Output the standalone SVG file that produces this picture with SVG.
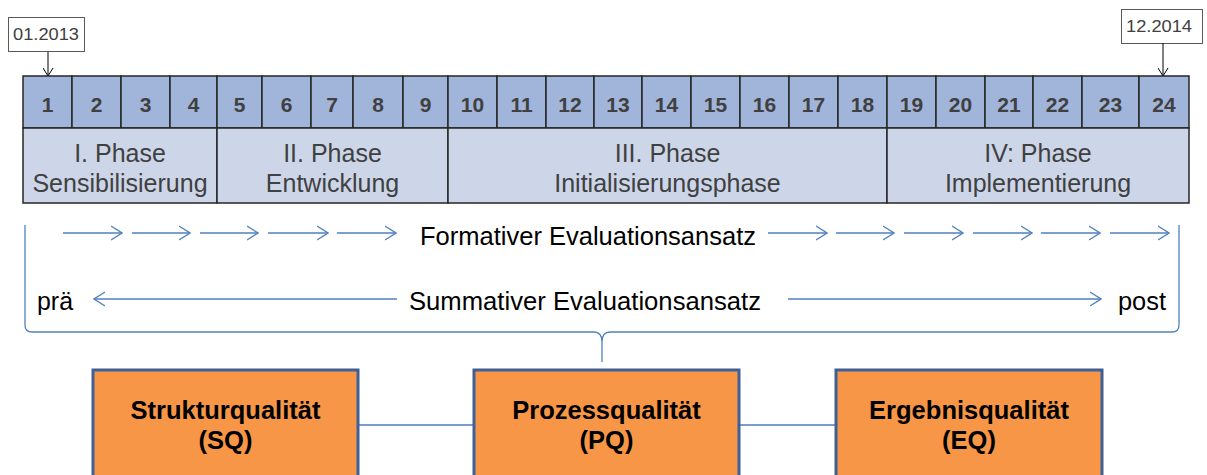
<svg xmlns="http://www.w3.org/2000/svg" width="1207" height="475" viewBox="0 0 1207 475">
<defs>
<style>
.cell{fill:#A1B4DA;stroke:#262626;stroke-width:1.5}
.phase{fill:#CDD6E9;stroke:#262626;stroke-width:1.5}
.num{font-family:"Liberation Sans",Arial,sans-serif;font-weight:bold;font-size:21px;fill:#404040;text-anchor:middle}
.ptxt{font-family:"Liberation Sans",Arial,sans-serif;font-size:25px;fill:#404040;text-anchor:middle}
.lbl{font-family:"Liberation Sans",Arial,sans-serif;font-size:25px;fill:#000}
.date{font-family:"Liberation Sans",Arial,sans-serif;font-size:16.5px;fill:#404040}
.datebox{fill:#fff;stroke:#595959;stroke-width:1}
.box{fill:#F79646;stroke:#3E6096;stroke-width:3}
.btxt{font-family:"Liberation Sans",Arial,sans-serif;font-weight:bold;font-size:25.5px;fill:#000;text-anchor:middle}
.arr{stroke:#4F81BD;stroke-width:1.3;fill:none}
.conn{stroke:#7A9BCE;stroke-width:2;fill:none}
</style>
<marker id="bh" viewBox="0 0 12 16" refX="11" refY="8" markerWidth="12" markerHeight="16" markerUnits="userSpaceOnUse" orient="auto">
<path d="M0,1 L11,8 L0,15" fill="none" stroke="#4F81BD" stroke-width="1.3"/>
</marker>
<marker id="kh" viewBox="0 0 12 12" refX="5" refY="10" markerWidth="12" markerHeight="12" markerUnits="userSpaceOnUse" orient="0">
<path d="M0,2 L5,10 L10,2" fill="none" stroke="#000" stroke-width="1"/>
</marker>
</defs>
<rect width="1207" height="475" fill="#fff"/>

<g id="dates">
<rect class="datebox" x="8.5" y="17.5" width="76" height="34"/>
<text class="date" x="46" y="40" text-anchor="middle" textLength="66" lengthAdjust="spacingAndGlyphs">01.2013</text>
<line x1="48" y1="52" x2="48" y2="76" stroke="#000" stroke-width="1" marker-end="url(#kh)"/>
<rect class="datebox" x="1121.5" y="9.5" width="81" height="34"/>
<text class="date" x="1159" y="32" text-anchor="middle" textLength="66" lengthAdjust="spacingAndGlyphs">12.2014</text>
<line x1="1163" y1="43" x2="1163" y2="76" stroke="#000" stroke-width="1" marker-end="url(#kh)"/>
</g>

<g id="months">
<rect class="cell" x="23" y="76" width="49" height="52"/>
<rect class="cell" x="72" y="76" width="49" height="52"/>
<rect class="cell" x="121" y="76" width="49" height="52"/>
<rect class="cell" x="170" y="76" width="47" height="52"/>
<rect class="cell" x="217" y="76" width="45" height="52"/>
<rect class="cell" x="262" y="76" width="49" height="52"/>
<rect class="cell" x="311" y="76" width="42" height="52"/>
<rect class="cell" x="353" y="76" width="50" height="52"/>
<rect class="cell" x="403" y="76" width="45" height="52"/>
<rect class="cell" x="448" y="76" width="49" height="52"/>
<rect class="cell" x="497" y="76" width="49" height="52"/>
<rect class="cell" x="546" y="76" width="48" height="52"/>
<rect class="cell" x="594" y="76" width="48" height="52"/>
<rect class="cell" x="642" y="76" width="49" height="52"/>
<rect class="cell" x="691" y="76" width="49" height="52"/>
<rect class="cell" x="740" y="76" width="49" height="52"/>
<rect class="cell" x="789" y="76" width="49" height="52"/>
<rect class="cell" x="838" y="76" width="49" height="52"/>
<rect class="cell" x="887" y="76" width="49" height="52"/>
<rect class="cell" x="936" y="76" width="49" height="52"/>
<rect class="cell" x="985" y="76" width="48" height="52"/>
<rect class="cell" x="1033" y="76" width="49" height="52"/>
<rect class="cell" x="1082" y="76" width="57" height="52"/>
<rect class="cell" x="1139" y="76" width="50" height="52"/>
<text class="num" x="47.5" y="111.5">1</text>
<text class="num" x="96.5" y="111.5">2</text>
<text class="num" x="145.5" y="111.5">3</text>
<text class="num" x="193.5" y="111.5">4</text>
<text class="num" x="239.5" y="111.5">5</text>
<text class="num" x="286.5" y="111.5">6</text>
<text class="num" x="332" y="111.5">7</text>
<text class="num" x="378" y="111.5">8</text>
<text class="num" x="425.5" y="111.5">9</text>
<text class="num" x="472.5" y="111.5">10</text>
<text class="num" x="521.5" y="111.5">11</text>
<text class="num" x="570" y="111.5">12</text>
<text class="num" x="618" y="111.5">13</text>
<text class="num" x="666.5" y="111.5">14</text>
<text class="num" x="715.5" y="111.5">15</text>
<text class="num" x="764.5" y="111.5">16</text>
<text class="num" x="813.5" y="111.5">17</text>
<text class="num" x="862.5" y="111.5">18</text>
<text class="num" x="911.5" y="111.5">19</text>
<text class="num" x="960.5" y="111.5">20</text>
<text class="num" x="1009" y="111.5">21</text>
<text class="num" x="1057.5" y="111.5">22</text>
<text class="num" x="1110.5" y="111.5">23</text>
<text class="num" x="1164" y="111.5">24</text>
</g>

<g id="phase1">
<rect class="phase" x="23" y="128" width="194" height="75"/>
<text class="ptxt" x="120" y="162">I. Phase</text>
<text class="ptxt" x="120" y="192">Sensibilisierung</text>
</g>
<g id="phase2">
<rect class="phase" x="217" y="128" width="231" height="75"/>
<text class="ptxt" x="332.5" y="162">II. Phase</text>
<text class="ptxt" x="332.5" y="192">Entwicklung</text>
</g>
<g id="phase3">
<rect class="phase" x="448" y="128" width="439" height="75"/>
<text class="ptxt" x="667.5" y="162">III. Phase</text>
<text class="ptxt" x="667.5" y="192">Initialisierungsphase</text>
</g>
<g id="phase4">
<rect class="phase" x="887" y="128" width="302" height="75"/>
<text class="ptxt" x="1038" y="162">IV: Phase</text>
<text class="ptxt" x="1038" y="192">Implementierung</text>
</g>

<g id="evaluation">
<path class="arr" d="M25,225 L25,325 Q25,332 32,332 L594,332 Q602,332 602,342 L602,362 M602,342 Q602,332 610,332 L1172,332 Q1179,332 1179,325 L1179,225"/>
<line class="arr" x1="63" y1="233" x2="122" y2="233" marker-end="url(#bh)"/>
<line class="arr" x1="132" y1="233" x2="190" y2="233" marker-end="url(#bh)"/>
<line class="arr" x1="200" y1="233" x2="258" y2="233" marker-end="url(#bh)"/>
<line class="arr" x1="268" y1="233" x2="328" y2="233" marker-end="url(#bh)"/>
<line class="arr" x1="337" y1="233" x2="396" y2="233" marker-end="url(#bh)"/>
<line class="arr" x1="768" y1="233" x2="827" y2="233" marker-end="url(#bh)"/>
<line class="arr" x1="836" y1="233" x2="894" y2="233" marker-end="url(#bh)"/>
<line class="arr" x1="904" y1="233" x2="963" y2="233" marker-end="url(#bh)"/>
<line class="arr" x1="973" y1="233" x2="1032" y2="233" marker-end="url(#bh)"/>
<line class="arr" x1="1041" y1="233" x2="1100" y2="233" marker-end="url(#bh)"/>
<line class="arr" x1="1110" y1="233" x2="1169" y2="233" marker-end="url(#bh)"/>
<text class="lbl" x="420" y="245" textLength="336" lengthAdjust="spacingAndGlyphs">Formativer Evaluationsansatz</text>
<line class="arr" x1="397" y1="299" x2="94" y2="299" marker-end="url(#bh)"/>
<line class="arr" x1="788" y1="299" x2="1101" y2="299" marker-end="url(#bh)"/>
<text class="lbl" x="37" y="310" textLength="36" lengthAdjust="spacingAndGlyphs">prä</text>
<text class="lbl" x="409" y="310" textLength="352" lengthAdjust="spacingAndGlyphs">Summativer Evaluationsansatz</text>
<text class="lbl" x="1118" y="310" textLength="48" lengthAdjust="spacingAndGlyphs">post</text>
</g>

<g id="connectors">
<line class="conn" x1="358" y1="425" x2="474" y2="425"/>
<line class="conn" x1="739" y1="425" x2="836" y2="425"/>
</g>

<g id="sq">
<rect class="box" x="93" y="370" width="265" height="125"/>
<text class="btxt" x="225.5" y="419">Strukturqualität</text>
<text class="btxt" x="225.5" y="449">(SQ)</text>
</g>
<g id="pq">
<rect class="box" x="474" y="370" width="265" height="125"/>
<text class="btxt" x="606.5" y="419">Prozessqualität</text>
<text class="btxt" x="606.5" y="449">(PQ)</text>
</g>
<g id="eq">
<rect class="box" x="836" y="370" width="266" height="125"/>
<text class="btxt" x="969" y="419">Ergebnisqualität</text>
<text class="btxt" x="969" y="449">(EQ)</text>
</g>
</svg>
